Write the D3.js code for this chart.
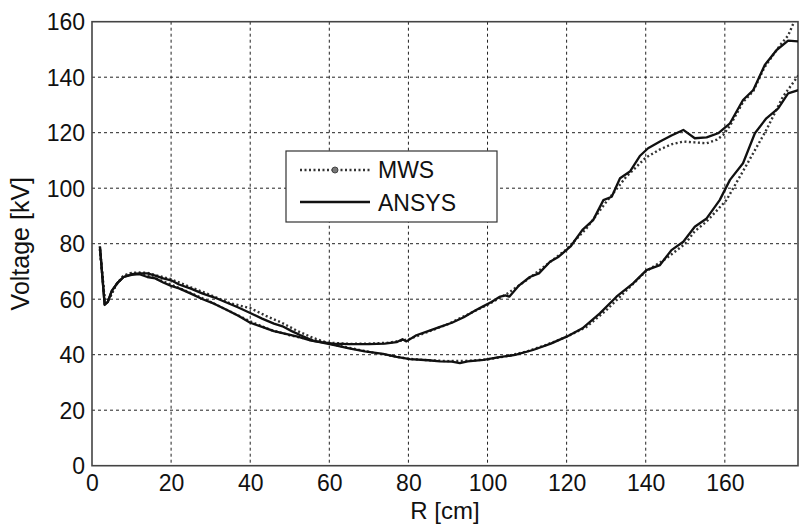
<!DOCTYPE html>
<html>
<head>
<meta charset="utf-8">
<script src="https://cdn.jsdelivr.net/npm/d3@7"></script>
<style>
  body { margin: 0; background: #fff; }
  text { font-family: "Liberation Sans", Arial, Helvetica, sans-serif; fill: #111; }
</style>
</head>
<body>
<div id="chart"></div>
<script>
// values: [R (cm), voltage (kV)]
const xTicks = [0, 20, 40, 60, 80, 100, 120, 140, 160];
const yTicks = [0, 20, 40, 60, 80, 100, 120, 140, 160];

const ansysUpper = [[2,79],[3.2,58],[4,59],[5,63],[6.5,66],[8,68],[10,68.8],[12,69],[14,68],[16,67.5],[18,66],
  [20,64.8],[22,63.9],[25,62],[28,60],[31,58.3],[34,56.2],[37,54],[40,51.5],[43,50],[46,48.5],[49,47.5],
  [52,46.5],[55,45.2],[58,44.5],[61,44],[65,43.8],[70,43.8],[74,44],[77,44.5],[78.5,45.6],[79.5,44.8],
  [82,47],[85,48.5],[88,50],[91,51.5],[94,53.5],[97,56],[99,57.5],[101,59],[103,60.8],[104.5,61.4],[105.5,60.9],
  [108,65],[110.7,68],[113,69.3],[115.8,73.5],[118,75.3],[121,79],[124,85],[126.7,88.5],[129.3,95.7],
  [131.4,96.9],[133.5,103.6],[136,106],[138.5,111.6],[140.6,114.4],[143.6,116.8],[146.5,119],[149.5,121],
  [152.4,118],[155.4,118.3],[158.3,119.8],[161.3,123.4],[164.6,131.8],[167.2,135.4],[170.1,144.4],
  [173.1,149.8],[176,153.2],[178.5,152.9]];

const ansysLower = [[2,79],[3.2,58],[4,59],[5,63],[6.5,66],[8,68],[10,69],[12,69.3],[14,69.3],[16,68.5],
  [18,67.5],[20,66.8],[22,65.3],[25,63.8],[28,62],[31,60.6],[34,58.8],[37,57],[40,55],[43,53],[46,51.2],
  [48.4,50.1],[50.5,48.5],[52.6,47.1],[56,45],[61,43.5],[65,42.3],[69,41.2],[73.6,40.3],[77,39.2],[80.4,38.4],
  [85,38],[88,37.6],[91,37.5],[93,37],[95,37.6],[99,38.1],[103,39.1],[107,39.9],[111.5,41.7],[116,44],
  [120,46.5],[124,49.5],[128.4,54.9],[132.6,60.9],[136.8,65.7],[140.2,70.5],[143.6,72.3],[146.5,77.7],
  [149.5,80.7],[152.4,86.1],[155.4,89.1],[158.7,95.7],[161.3,103],[164.6,109],[167.6,119.8],[170.5,125.2],
  [173.5,128.8],[176,134.2],[178.7,135.4]];

const mwsUpper = [[2,78],[3.3,58.5],[4.5,60.5],[6,65],[8,68.5],[10,69.3],[12,69.3],[14,68.5],[17,67],
  [20,65.2],[25,62.2],[30,59],[35,55.5],[40,52],[45,49],[50,47],[55,45.5],[60,44.3],[65,43.9],[70,44],
  [75,44.3],[80,45.5],[85,48.3],[90,51],[95,54.5],[100,58],[105,62],[110,67],[115,72.5],[120,78],[125,85.5],
  [130,95],[135,104],[140,111],[143.6,114],[146.5,115.8],[149.5,116.8],[152.4,116.5],[155.4,116.2],
  [158,117.5],[159.6,119.2],[161.3,122.5],[164.6,131],[167.2,135],[170,143.5],[174,151.6],[176,155],
  [177.7,160.6],[178.5,165]];

const mwsLower = [[2,78],[3.3,58.5],[4.5,60.5],[6,65],[8,68.5],[10,69.5],[12,69.6],[14,69.5],[17,68.3],
  [20,67.2],[25,64.3],[30,61.5],[35,58.5],[40,56.8],[44,54],[48,51.5],[52,48.5],[56,46],[60,44],[65,42.5],
  [70,41],[75,39.8],[80,38.5],[85,38],[90,37.7],[95,37.8],[100,38.3],[105,39.5],[110,41.2],[115,43.6],
  [120,46.5],[125,50],[130,56],[135,63],[140,70],[145,74.5],[150,80],[152.4,84.5],[155.4,88],[160.4,95.7],
  [165.5,108.4],[170.5,121],[174.7,133],[178.7,140.8]];

const W = 799, H = 525;
const margin = {top: 21.7, right: 1, bottom: 59.3, left: 92};
const width = W - margin.left - margin.right,
      height = H - margin.top - margin.bottom;

const svg = d3.select("#chart").append("svg")
    .attr("width", W)
    .attr("height", H);

const g = svg.append("g")
    .attr("transform", "translate(" + margin.left + "," + margin.top + ")");

const x = d3.scaleLinear().domain([0, 178.5]).range([0, width]);
const y = d3.scaleLinear().domain([0, 160]).range([height, 0]);

// grid
g.append("g")
    .selectAll("line")
    .data(xTicks.filter(d => d > 0))
    .enter().append("line")
    .attr("x1", d => x(d)).attr("x2", d => x(d))
    .attr("y1", 0).attr("y2", height)
    .attr("stroke", "#222").attr("stroke-width", 1)
    .attr("stroke-dasharray", "3,3");

g.append("g")
    .selectAll("line")
    .data(yTicks.filter(d => d > 0 && d < 160))
    .enter().append("line")
    .attr("x1", 0).attr("x2", width)
    .attr("y1", d => y(d)).attr("y2", d => y(d))
    .attr("stroke", "#222").attr("stroke-width", 1)
    .attr("stroke-dasharray", "3,3");

// axes (labels only)
const xAxis = g.append("g")
    .attr("transform", "translate(0," + height + ")")
    .call(d3.axisBottom(x).tickValues(xTicks).tickSize(0).tickPadding(9));
xAxis.select(".domain").remove();
xAxis.selectAll("text").style("font-size", "23px").attr("fill", "#111");

const yAxis = g.append("g")
    .call(d3.axisLeft(y).tickValues(yTicks).tickSize(0).tickPadding(7));
yAxis.select(".domain").remove();
yAxis.selectAll("text").style("font-size", "23px").attr("fill", "#111").attr("dy", "0.36em");

// frame
g.append("rect")
    .attr("width", width).attr("height", height)
    .attr("fill", "none").attr("stroke", "#444").attr("stroke-width", 1.6);

// curves
g.append("clipPath").attr("id", "clip")
  .append("rect").attr("width", width).attr("height", height);

const line = d3.line().x(d => x(d[0])).y(d => y(d[1]));
const plot = g.append("g").attr("clip-path", "url(#clip)");

[mwsUpper, mwsLower].forEach(s => {
  plot.append("path").datum(s)
    .attr("d", line)
    .attr("fill", "none")
    .attr("stroke", "#333")
    .attr("stroke-width", 2.4)
    .attr("stroke-dasharray", "2,2.5");
});

[ansysUpper, ansysLower].forEach(s => {
  plot.append("path").datum(s)
    .attr("d", line)
    .attr("fill", "none")
    .attr("stroke", "#111")
    .attr("stroke-width", 2.3)
    .attr("stroke-linejoin", "round");
});

// axis titles
svg.append("text")
    .attr("x", margin.left + width / 2)
    .attr("y", 519)
    .attr("text-anchor", "middle")
    .style("font-size", "24px")
    .text("R [cm]");

svg.append("text")
    .attr("transform", "translate(29," + (margin.top + height / 2) + ") rotate(-90)")
    .attr("text-anchor", "middle")
    .style("font-size", "25px")
    .text("Voltage [kV]");

// legend
const legend = svg.append("g").attr("transform", "translate(286,151)");
legend.append("rect")
    .attr("width", 211).attr("height", 71)
    .attr("fill", "#fff").attr("stroke", "#333").attr("stroke-width", 1.2);
legend.append("line")
    .attr("x1", 14).attr("x2", 84).attr("y1", 19).attr("y2", 19)
    .attr("stroke", "#333").attr("stroke-width", 2.4).attr("stroke-dasharray", "2,2.5");
legend.append("circle")
    .attr("cx", 49).attr("cy", 19).attr("r", 3)
    .attr("fill", "#777").attr("stroke", "#444");
legend.append("line")
    .attr("x1", 14).attr("x2", 84).attr("y1", 51).attr("y2", 51)
    .attr("stroke", "#111").attr("stroke-width", 2.3);
legend.append("text").attr("x", 92).attr("y", 27).style("font-size", "23px").text("MWS");
legend.append("text").attr("x", 92).attr("y", 60).style("font-size", "23px").text("ANSYS");
</script>
</body>
</html>
